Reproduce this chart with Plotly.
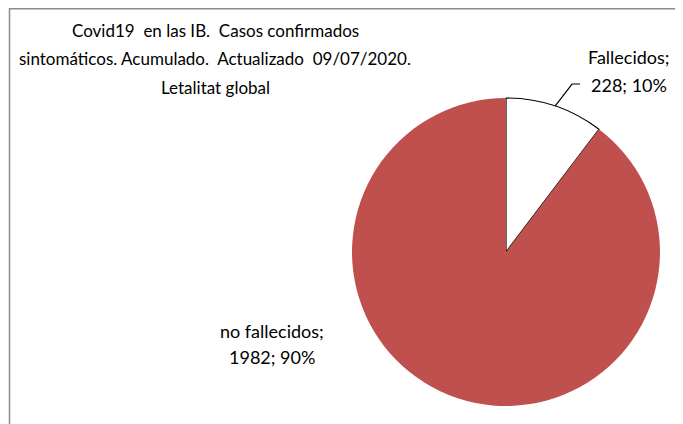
import math
import plotly.graph_objects as go

# data
labels = ["Fallecidos", "no fallecidos"]
values = [228, 1982]
colors = ["#FFFFFF", "#C0504D"]

title_lines = ["Covid19  en las IB.  Casos confirmados",
               "sintomáticos. Acumulado.  Actualizado  09/07/2020.",
               "Letalitat global"]

W, H = 683, 424
font = "Lato"
off = 8  # page body margin shifts everything by this much

# pie placement (pixels in the page)
cx, cy, r = 506 - off, 252 - off, 154


def add_lines(fig, lines, x, y0, step, size):
    # one annotation per line so the line spacing can follow the reference
    for i, t in enumerate(lines):
        fig.add_annotation(x=(x - off) / W, y=1 - (y0 + i * step - off) / H,
                           xref="paper", yref="paper", text=t, showarrow=False,
                           xanchor="center", yanchor="middle",
                           font=dict(family=font, size=size, color="#000"))


total = sum(values)
pct = [round(v / total * 100) for v in values]
label_lines = [[f"{l};", f"{v}; {p}%"] for l, v, p in zip(labels, values, pct)]

fig = go.Figure(go.Pie(
    labels=labels, values=values, sort=False, direction="clockwise", rotation=0,
    marker=dict(colors=colors, line=dict(color=["#000000", "#C0504D"], width=[1.2, 0])),
    textinfo="none", hoverinfo="label+value+percent", showlegend=False,
    domain=dict(x=[(cx - r) / W, (cx + r) / W], y=[(H - cy - r) / H, (H - cy + r) / H]),
))

# leader line from the arc of the small slice to its label
ang = math.radians(values[0] / total * 360 / 2)
tx = cx + r * math.sin(ang)
ty = cy - r * math.cos(ang)
ex, ey = tx + 17, ty - 22
fig.add_shape(type="path", xref="paper", yref="paper",
              path=f"M {tx / W} {1 - ty / H} L {ex / W} {1 - ey / H} L {(ex + 8) / W} {1 - ey / H}",
              line=dict(color="black", width=1.2))

add_lines(fig, title_lines, 215, 30, 28.5, 17)
add_lines(fig, label_lines[0], 629, 57, 28, 18)
add_lines(fig, label_lines[1], 272, 331, 26, 18)

fig.add_shape(type="rect", xref="paper", yref="paper", x0=1.5 / W, x1=1.02, y0=-0.02, y1=1 - 0.8 / H,
              line=dict(color="#8C8C8C", width=1.5))

fig.update_layout(width=W, height=H, margin=dict(l=0, r=0, t=0, b=0),
                  paper_bgcolor="white", plot_bgcolor="white")

fig.write_html("out.html")
